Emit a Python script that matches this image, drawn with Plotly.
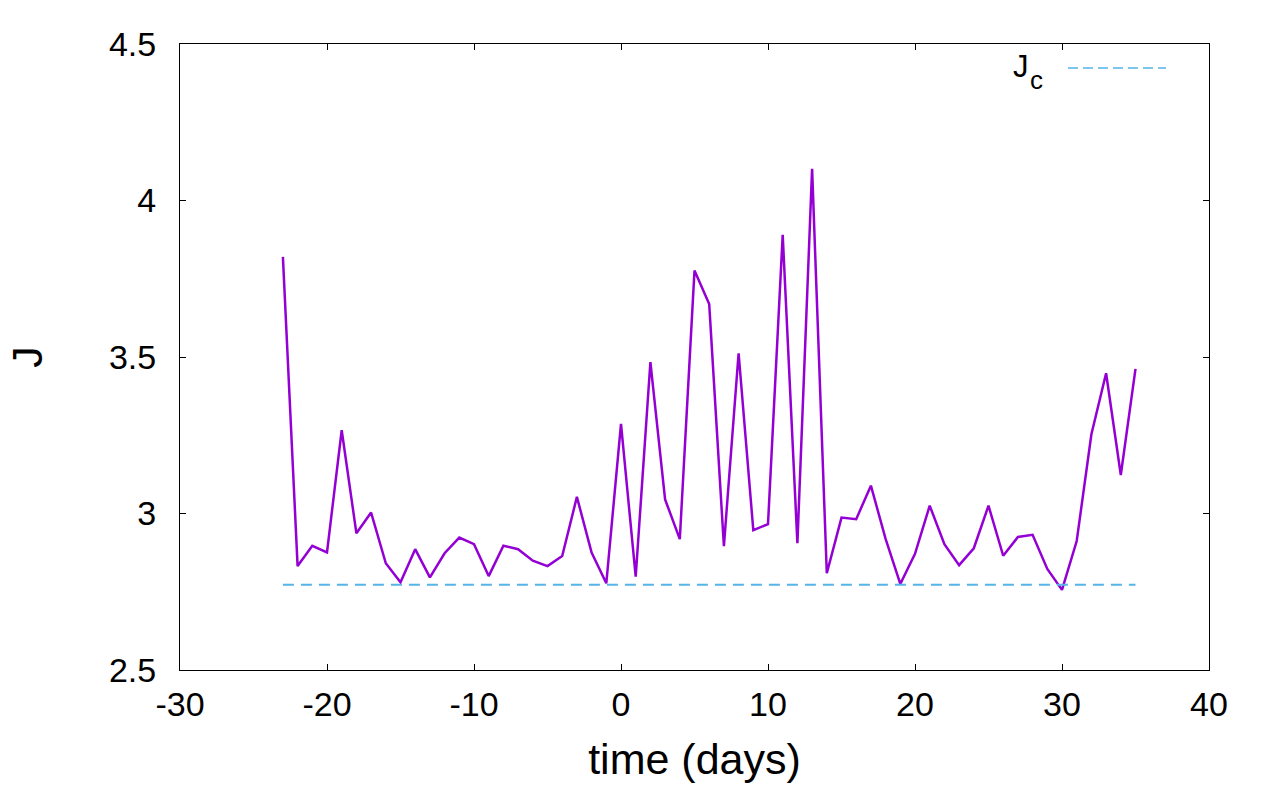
import plotly.graph_objects as go

days = list(range(-23, 36))
J = [3.820, 2.832, 2.897, 2.876, 3.266, 2.937, 3.003, 2.841, 2.780, 2.886,
     2.796, 2.873, 2.923, 2.902, 2.800, 2.897, 2.886, 2.849, 2.832, 2.864,
     3.053, 2.875, 2.777, 3.286, 2.798, 3.484, 3.045, 2.918, 3.776, 3.669,
     2.896, 3.512, 2.947, 2.966, 3.890, 2.905, 4.101, 2.809, 2.987, 2.982,
     3.089, 2.919, 2.775, 2.871, 3.025, 2.902, 2.835, 2.889, 3.025, 2.865,
     2.925, 2.932, 2.823, 2.756, 2.912, 3.253, 3.448, 3.123, 3.462]
Jc_value = 2.772
Jc = [Jc_value] * len(days)

x_ticks = [-30, -20, -10, 0, 10, 20, 30, 40]
y_ticks = [2.5, 3, 3.5, 4, 4.5]

FONT = "Liberation Sans, Arial, sans-serif"

fig = go.Figure()
fig.add_trace(go.Scatter(x=days, y=J, mode="lines",
                         line=dict(color="#9400D3", width=2.5), showlegend=False))
fig.add_trace(go.Scatter(x=days, y=Jc, mode="lines",
                         line=dict(color="#56B4E9", width=2, dash="11px,7px"),
                         showlegend=False))

axis_common = dict(showline=True, linecolor="black", linewidth=1, mirror="ticks",
                   ticks="inside", ticklen=6, tickwidth=1, tickcolor="black",
                   showgrid=False, zeroline=False,
                   tickfont=dict(family=FONT, size=34, color="black"))

fig.update_layout(
    width=1275, height=788,
    margin=dict(l=180, r=66, t=44, b=118),
    paper_bgcolor="white", plot_bgcolor="white",
    font=dict(family=FONT, color="black"),
    xaxis=dict(range=[-30, 40], tickvals=x_ticks, ticktext=[str(v) for v in x_ticks],
               ticklabelstandoff=4,
               title=dict(text="time (days)", font=dict(size=43, family=FONT), standoff=22),
               **axis_common),
    yaxis=dict(range=[2.5, 4.5], tickvals=y_ticks, ticktext=[str(v) for v in y_ticks],
               ticklabelstandoff=16,
               title=dict(text="J", font=dict(size=43, family=FONT), standoff=52),
               **axis_common),
)

# key (gnuplot style: label then sample)
fig.add_annotation(xref="paper", yref="paper", x=(1031 - 180) / 1029, y=(670 - 66) / 626,
                   xanchor="right", yanchor="middle", showarrow=False,
                   text="J", font=dict(family=FONT, size=31, color="black"))
fig.add_annotation(xref="paper", yref="paper", x=(1028 - 180) / 1029, y=(670 - 80) / 626,
                   xanchor="left", yanchor="middle", showarrow=False,
                   text="c", font=dict(family=FONT, size=26, color="black"))
fig.add_shape(type="line", xref="paper", yref="paper",
              x0=(1068 - 180) / 1029, x1=(1166 - 180) / 1029,
              y0=(670 - 68) / 626, y1=(670 - 68) / 626,
              line=dict(color="#56B4E9", width=1.5, dash="10px,5px"))

fig.write_html("out.html")
